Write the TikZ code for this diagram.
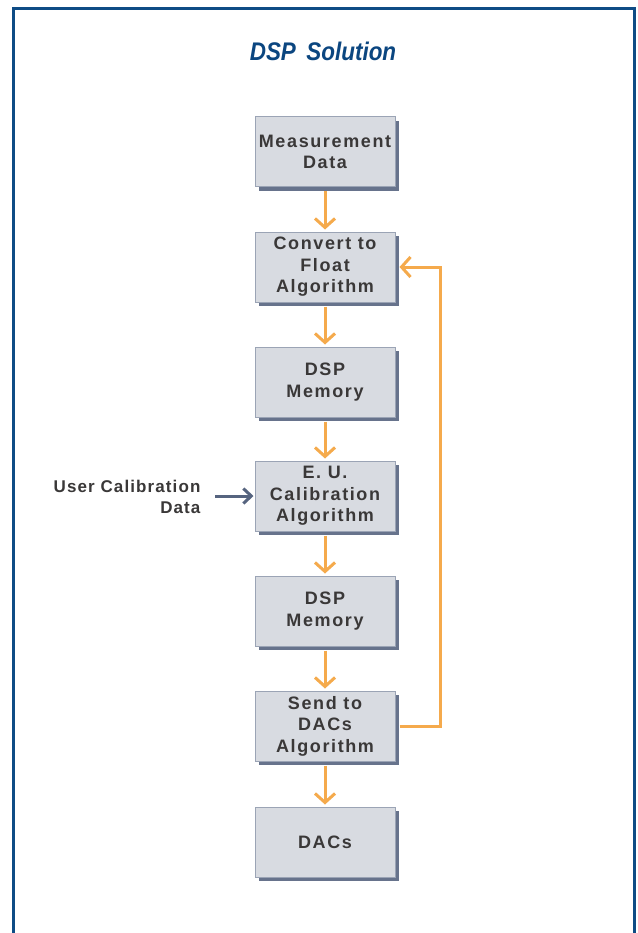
\documentclass[tikz,border=0pt]{standalone}
\usepackage{fontspec}
\setmainfont{Liberation Sans}
\newfontfamily\boxfont{Liberation Sans}[LetterSpace=9]
\newfontfamily\lblfont{Liberation Sans}[LetterSpace=6.5]
\newfontfamily\titlefont{Liberation Sans}[FakeStretch=0.88]
\usetikzlibrary{arrows.meta,shadows}
\definecolor{framec}{HTML}{0E4C85}
\definecolor{titlec}{HTML}{0B4680}
\definecolor{boxfill}{HTML}{D8DBE1}
\definecolor{boxborder}{HTML}{9BA4B5}
\definecolor{shadowc}{HTML}{67738C}
\definecolor{orangec}{HTML}{F5AA4C}
\definecolor{textc}{HTML}{3A3838}
\definecolor{bluearr}{HTML}{56647F}
\tikzset{
  stepbox/.style={minimum width=140pt, minimum height=70pt, inner sep=0pt,
    fill=boxfill, draw=boxborder, line width=1pt, align=center,
    text=textc, font=\boxfont\bfseries\fontsize{18}{21.5}\selectfont,
    drop shadow={shadow xshift=4pt, shadow yshift=-4pt, fill=shadowc, opacity=1}},
  oarr/.style={draw=orangec, line width=3pt,
    -{Straight Barb[length=9pt,width=20pt,line width=3pt]}},
  barr/.style={draw=bluearr, line width=3pt,
    -{Straight Barb[length=8pt,width=15pt,line width=3pt]}},
}
\begin{document}
\begin{tikzpicture}[x=1pt,y=1pt]
\useasboundingbox (0,0) rectangle (637,-933);
\fill[white] (0,0) rectangle (637,-933);
\draw[framec, line width=3pt] (13.5,-933) -- (13.5,-8.5) -- (634,-8.5) -- (634,-933);
\node[font=\titlefont\bfseries\itshape\fontsize{25.5}{30}\selectfont, text=titlec] (title) at (323,-51) {DSP\, Solution};
\node[stepbox] (meas) at (325,-152) {Measurement\\Data};
\node[stepbox] (conv) at (325,-267) {Convert to\\Float\\Algorithm};
\node[stepbox] (mem1) at (325,-382) {DSP\\Memory};
\node[stepbox] (cal) at (325,-496) {E. U.\\Calibration\\Algorithm};
\node[stepbox] (mem2) at (325,-611) {DSP\\Memory};
\node[stepbox] (send) at (325,-726) {Send to\\DACs\\Algorithm};
\node[stepbox] (dacs) at (325,-842) {DACs};
\node[anchor=east, align=right, text=textc, font=\lblfont\bfseries\fontsize{17}{20.5}\selectfont] (user) at (204,-497) {User Calibration\\Data};
\coordinate (fb) at (440,0);
\draw[oarr, shorten >=2pt] ([yshift=-4pt]meas.south) -- (conv.north);
\draw[oarr, shorten >=2pt] ([yshift=-4pt]conv.south) -- (mem1.north);
\draw[oarr, shorten >=2pt] ([yshift=-4pt]mem1.south) -- (cal.north);
\draw[oarr, shorten >=2pt] ([yshift=-4pt]cal.south) -- (mem2.north);
\draw[oarr, shorten >=2pt] ([yshift=-4pt]mem2.south) -- (send.north);
\draw[oarr, shorten >=2pt] ([yshift=-4pt]send.south) -- (dacs.north);
\draw[oarr] ([xshift=4pt]send.east) -- (send.east -| fb) -- (conv.east -| fb) -- ([xshift=4pt]conv.east);
\draw[barr, shorten >=1pt] ([xshift=11pt]user.east |- cal.west) -- (cal.west);
\end{tikzpicture}
\end{document}
